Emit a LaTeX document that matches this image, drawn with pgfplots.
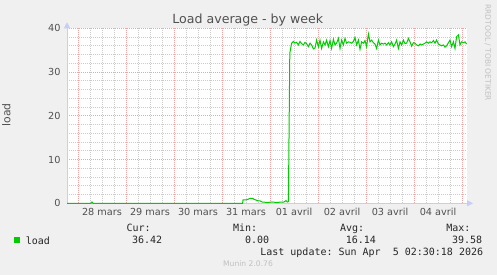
\documentclass[border=0pt]{standalone}
\usepackage{fontspec}
\setmainfont{DejaVu Sans}
\setmonofont{DejaVu Sans Mono}
\usepackage{pgfplots}
\pgfplotsset{compat=1.18}
\usetikzlibrary{arrows.meta}
\definecolor{bg}{HTML}{F0F0F0}
\definecolor{lgreen}{HTML}{00CC00}
\definecolor{majgrid}{HTML}{EBA8A8}
\definecolor{mingrid}{HTML}{CCCCCC}
\definecolor{axcol}{HTML}{C8CCF8}
\definecolor{txt}{HTML}{505050}
\definecolor{wm}{HTML}{C0C0C0}
\begin{document}
\begin{tikzpicture}[lg/.style={anchor=base west, inner sep=0pt, font=\fontsize{10}{12}\selectfont\ttfamily, text=black!85}]
\fill[bg] (0,0) rectangle (497pt,-275pt);
\begin{axis}[
  at={(67pt,-203.3pt)}, anchor=south west,
  scale only axis, width=400pt, height=175pt,
  xmin=-5.5, xmax=194.5, ymin=0, ymax=40,
  clip=false,
  axis background/.style={fill=white},
  axis x line=bottom, axis y line=left,
  axis line style={draw=axcol, line width=0.8pt, -{Triangle[length=6pt,width=6pt]}, shorten >=-6pt},
  major tick length=0pt, minor tick length=0pt,
  xtick={12,36,...,180},
  xticklabels={28 mars,29 mars,30 mars,31 mars,01 avril,02 avril,03 avril,04 avril},
  minor xtick={0,6,...,192},
  extra x ticks={0,24,...,192},
  extra x tick labels={{},{},{},{},{},{},{},{},{}},
  extra x tick style={xmajorgrids=true, major grid style={majgrid, dash pattern=on 1pt off 1pt, line width=0.8pt}},
  xmajorgrids=false, xminorgrids=true,
  ytick={0,10,...,40}, minor ytick={2,4,...,38},
  ymajorgrids=true, yminorgrids=true,
  major grid style={majgrid, dash pattern=on 1pt off 1pt, line width=0.8pt},
  minor grid style={mingrid, dash pattern=on 1pt off 1pt, line width=0.8pt},
  /pgf/number format/assume math mode=true,
  xticklabel style={anchor=base, inner sep=0pt, yshift=-12.4pt, font=\fontsize{9.7}{11}\selectfont, text=txt},
  yticklabel style={anchor=east, inner sep=0pt, xshift=-6.3pt, font=\fontsize{9.7}{11}\selectfont, text=txt},
  legend style={draw=none, fill=none, inner xsep=0pt, inner ysep=0pt,
    at={(axis description cs:-0.1325,-0.2114)}, anchor=west,
    nodes={inner sep=0pt, text depth=0pt},
    font=\fontsize{10}{12}\selectfont\ttfamily, text=black!85},
]
\addplot[lgreen, line width=1pt,
  legend image code/.code={\fill[lgreen, draw=none] (0pt,-3pt) rectangle (6pt,3pt); \path[draw=none, fill=none] (0pt,0pt) -- (11.7pt,0pt);}]
coordinates {
(-5.5,0) (6.5,0) (7,0.3) (7.5,0) (82.3,0) (82.5,0.76) (84,0.76) (85.5,1.0) (86,1.14) (87.5,1.1)
(88,0.9) (89,0.76) (90,0.55) (91,0.55) (92,0.3) (93,0.25) (95,0.2) (97,0.3) (99,0.2) (101,0.25)
(103,0.3) (104,0.6) (104.6,0.3) (105.2,0.4) (105.9,34.3)
(106.8,36.6) (107.7,37.0) (108.5,36.6) (109.3,36.8) (110.2,36.2) (111.0,37.0) (111.8,36.5) (112.7,36.2)
(113.5,36.8) (114.3,36.5) (115.2,35.8) (116.0,36.6) (116.8,36.2) (117.7,35.3) (118.5,35.5) (119.3,37.3)
(120.2,35.8) (121.0,37.3) (121.8,35.4) (122.7,36.9) (123.5,36.2) (124.3,37.3) (125.2,35.8) (126.0,37.2)
(126.8,35.4) (127.7,37.5) (128.5,36.2) (129.3,36.6) (130.2,37.7) (131.0,35.4) (131.8,37.3) (132.7,36.2)
(133.5,37.7) (134.3,36.6) (135.2,36.9) (136.0,36.8) (136.8,36.6) (137.7,37.0) (138.5,37.9) (139.3,36.2)
(140.2,37.3) (141.0,35.2) (141.8,36.9) (142.7,36.6) (143.5,37.2) (144.3,35.8) (145.2,38.7) (146.0,36.9)
(146.8,37.3) (147.7,36.7) (148.5,36.4) (149.3,35.4) (150.2,37.3) (151.0,36.2) (151.8,36.6) (152.7,36.4)
(153.5,36.6) (154.3,36.2) (155.2,36.7) (156.0,36.2) (156.8,36.9) (157.7,35.8) (158.5,36.4) (159.3,37.3)
(160.2,35.4) (161.0,36.9) (161.8,36.2) (162.7,37.3) (163.5,36.5) (164.3,36.6) (165.2,37.7) (166.0,36.9)
(166.8,35.9) (167.7,36.7) (168.5,36.6) (169.3,36.2) (170.2,36.0) (171.0,36.4) (171.8,36.2) (172.7,36.4)
(173.5,36.6) (174.3,36.9) (175.2,36.6) (176.0,36.9) (176.8,36.7) (177.7,37.2) (178.5,36.6) (179.3,37.3)
(180.2,36.4) (181.0,36.2) (181.8,36.0) (182.7,36.2) (183.5,35.7) (184.3,36.0) (185.2,36.7) (186.0,37.3)
(186.8,35.8) (187.7,36.9) (188.5,35.4) (189.3,38.1) (190.2,38.5) (191.0,36.2) (191.8,36.9) (192.7,36.7)
(193.5,36.9) (194.3,36.4)
};
\addlegendentry{load}
\end{axis}
\node[anchor=base, inner sep=0pt, font=\fontsize{12.6}{14}\selectfont, text=txt] at (247.8pt,-24pt) {Load average - by week};
\node[anchor=base, rotate=90, inner sep=0pt, font=\fontsize{10.8}{12}\selectfont, text=txt] at (10.3pt,-114.7pt) {load};
\node[anchor=west, rotate=-90, inner sep=0pt, font=\fontsize{7.5}{9}\selectfont, text=wm] at (487.8pt,-4.3pt) {RRDTOOL / TOBI OETIKER};
\node[lg] at (126.3pt,-231pt) {Cur:};
\node[lg] at (232.8pt,-231pt) {Min:};
\node[lg] at (339.9pt,-231pt) {Avg:};
\node[lg] at (446.2pt,-231pt) {Max:};
\node[lg] at (131.8pt,-243.3pt) {36.42};
\node[lg] at (244.9pt,-243.3pt) {0.00};
\node[lg] at (345.6pt,-243.3pt) {16.14};
\node[lg] at (451.8pt,-243.3pt) {39.58};
\node[lg, anchor=base east] at (483.3pt,-255pt) {Last update: Sun Apr\ \ 5 02:30:18 2026};
\node[anchor=base, inner sep=0pt, font=\fontsize{7.6}{9}\selectfont, text=wm] at (248pt,-266.7pt) {Munin 2.0.76};
\end{tikzpicture}
\end{document}
